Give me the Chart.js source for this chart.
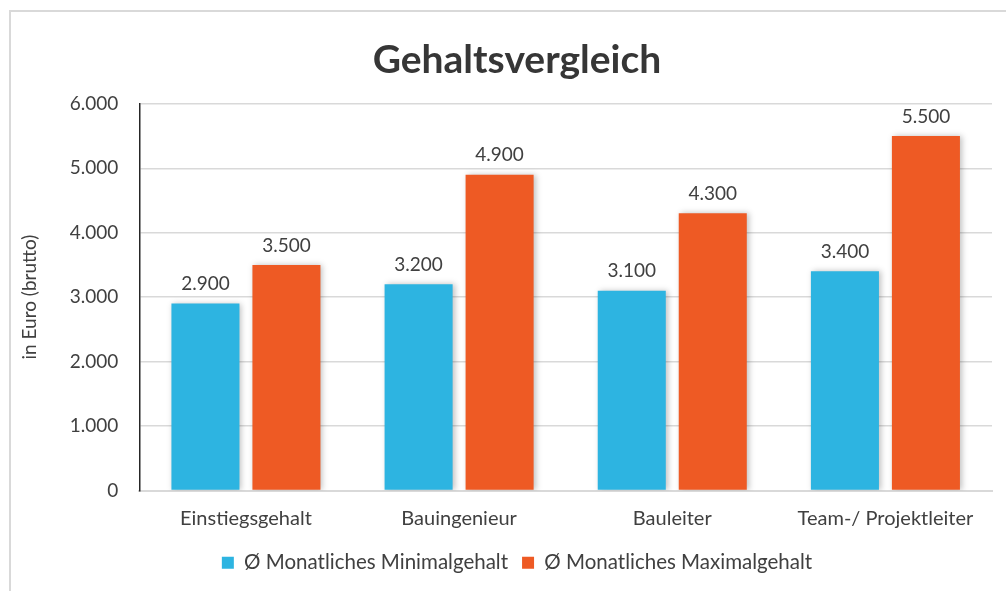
<!DOCTYPE html>
<html>
<head>
<meta charset="utf-8">
<script src="https://cdn.jsdelivr.net/npm/chart.js@4.4.0/dist/chart.umd.min.js"></script>
<style>
  html, body { margin: 0; padding: 0; background: #fff; overflow: hidden; }
  #frame { position: absolute; left: 9px; top: 10px; width: 1010px; height: 600px; border: 2px solid #d9d9d9; box-sizing: border-box; }
  #wrap { position: absolute; left: 0; top: 0; width: 1006px; height: 591px; }
</style>
</head>
<body>
<div id="frame"></div>
<div id="wrap"><canvas id="chart" width="1006" height="591"></canvas></div>
<script>
// chart data
let categories = ["Einstiegsgehalt", "Bauingenieur", "Bauleiter", "Team-/ Projektleiter"];
let minGehalt = [2900, 3200, 3100, 3400];
let maxGehalt = [3500, 4900, 4300, 5500];
let seriesNames = ["Ø Monatliches Minimalgehalt", "Ø Monatliches Maximalgehalt"];

function fmt(v) {
    return v.toString().replace(/\B(?=(\d{3})+(?!\d))/g, ".");
}

// simple value labels above the bars
var barLabels = {
    id: 'barLabels',
    afterDatasetsDraw: function(chart) {
        var ctx = chart.ctx;
        ctx.save();
        ctx.font = '19px Lato';
        ctx.fillStyle = '#404040';
        ctx.textAlign = 'center';
        ctx.textBaseline = 'bottom';
        chart.data.datasets.forEach(function(ds, i) {
            chart.getDatasetMeta(i).data.forEach(function(bar, j) {
                ctx.fillText(fmt(ds.data[j]), bar.x, bar.y - 10);
            });
        });
        ctx.restore();
    }
};

// soft shadow on bars
var barShadow = {
    id: 'barShadow',
    beforeDatasetsDraw: function(chart) {
        var ctx = chart.ctx;
        ctx.save();
        ctx.shadowColor = 'rgba(0,0,0,0.25)';
        ctx.shadowBlur = 6;
        ctx.shadowOffsetX = 2;
        ctx.shadowOffsetY = 0;
    },
    afterDatasetsDraw: function(chart) {
        chart.ctx.restore();
    }
};

var ctx = document.getElementById('chart').getContext('2d');
var config = {
    type: 'bar',
    data: {
        labels: categories,
        datasets: [{
            label: seriesNames[0],
            data: minGehalt,
            backgroundColor: '#2db4e1',
            categoryPercentage: 0.76,
            barPercentage: 0.84
        }, {
            label: seriesNames[1],
            data: maxGehalt,
            backgroundColor: '#ee5a24',
            categoryPercentage: 0.76,
            barPercentage: 0.84
        }]
    },
    options: {
        responsive: false,
        animation: false,
        layout: { padding: { left: 42, right: 14, top: 37, bottom: 8 } },
        plugins: {
            title: {
                display: true,
                text: 'Gehaltsvergleich',
                color: '#363636',
                font: { family: 'Lato', size: 39, weight: 'bold' },
                padding: { top: 0, bottom: 20 }
            },
            legend: {
                position: 'bottom',
                labels: {
                    color: '#404040',
                    font: { family: 'Lato', size: 20.5 },
                    boxWidth: 12,
                    boxHeight: 12,
                    padding: 14
                }
            },
            tooltip: { enabled: false }
        },
        scales: {
            x: {
                grid: { display: false },
                border: { color: '#d9d9d9', width: 2 },
                ticks: { color: '#404040', font: { family: 'Lato', size: 20 }, padding: 8 }
            },
            y: {
                min: 0,
                max: 6000,
                ticks: {
                    stepSize: 1000,
                    color: '#404040',
                    font: { family: 'Lato', size: 19 },
                    padding: 21,
                    callback: function(v) { return fmt(v); }
                },
                grid: { color: '#d9d9d9', lineWidth: 1.5, drawTicks: false },
                border: { color: '#262626', width: 1.5 },
                title: {
                    display: true,
                    text: 'in Euro (brutto)',
                    color: '#404040',
                    font: { family: 'Lato', size: 19 },
                    padding: { top: -24, bottom: 8 }
                }
            }
        }
    },
    plugins: [barShadow, barLabels]
};

var chart = new Chart(ctx, config);
</script>
</body>
</html>
